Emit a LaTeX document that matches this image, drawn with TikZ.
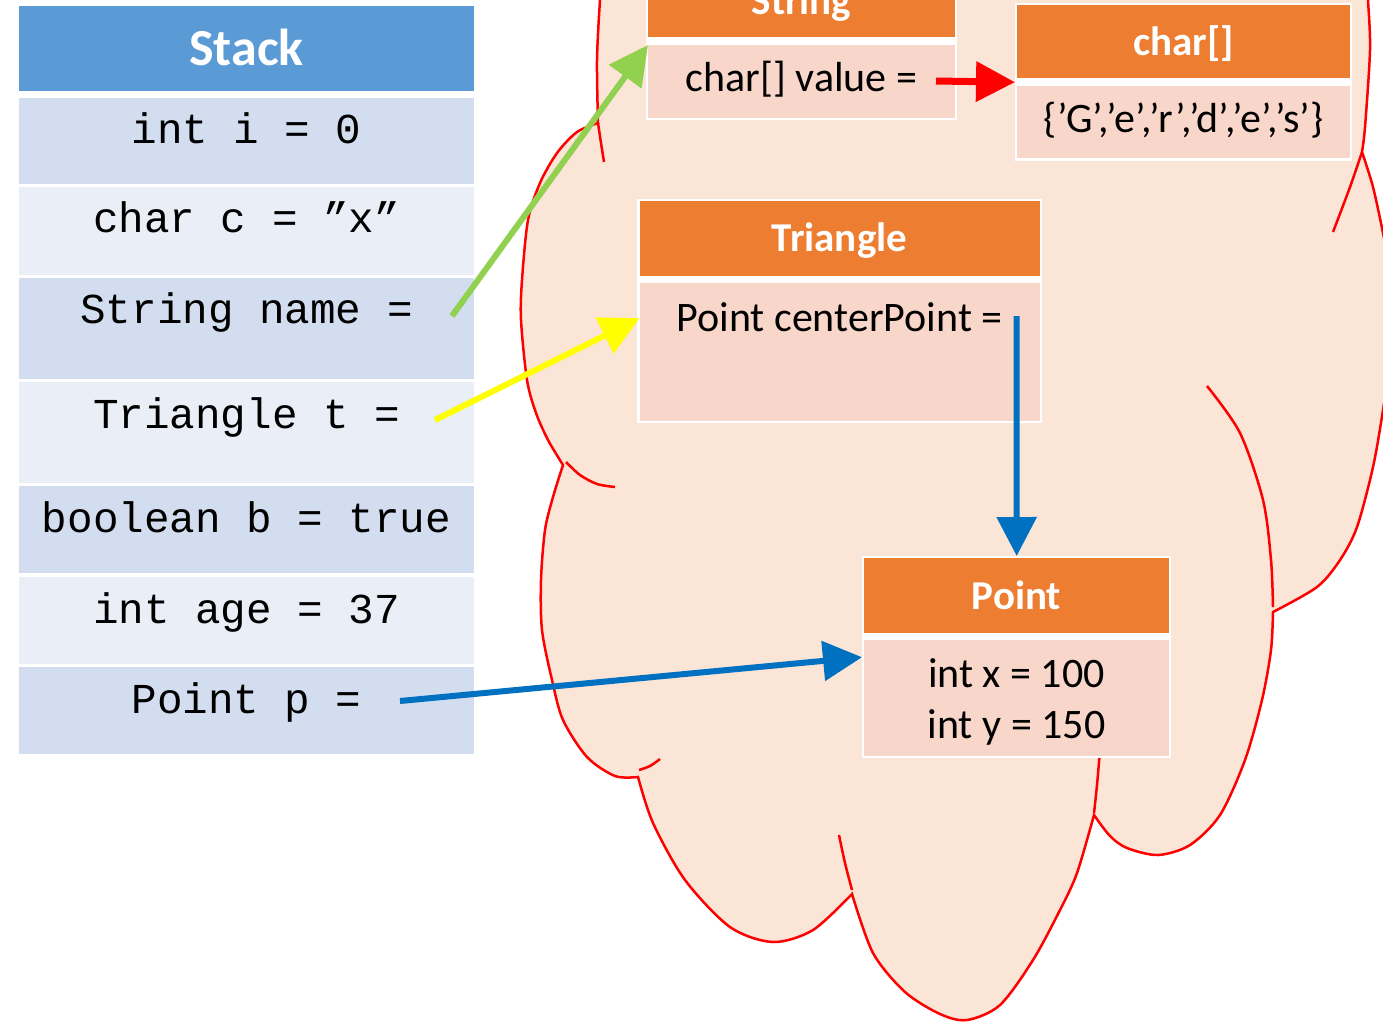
\documentclass[tikz,border=0pt]{standalone}
\usepackage{fontspec}
\setmainfont{Carlito}
\newfontfamily\codefont{Liberation Mono}
\usetikzlibrary{arrows.meta}

\definecolor{stackhead}{HTML}{5B9BD5}
\definecolor{stackdark}{HTML}{D2DEEF}
\definecolor{stacklight}{HTML}{EAEFF7}
\definecolor{heapfill}{HTML}{FBE5D6}
\definecolor{heapline}{HTML}{FF0000}
\definecolor{objhead}{HTML}{ED7D31}
\definecolor{objbody}{HTML}{F8D7CA}
\definecolor{refgreen}{HTML}{92D050}
\definecolor{refblue}{HTML}{0070C0}
\definecolor{refyellow}{HTML}{FFFF00}

\begin{document}
\begin{tikzpicture}[x=1pt,y=-1pt,
  cloudline/.style={draw=heapline, line width=2.5pt},
  cell/.style={inner sep=0pt, minimum width=455pt, anchor=north west},
  code/.style={font=\codefont\fontsize{42.6}{50}\selectfont, anchor=base, inner sep=0pt},
  stacktitle/.style={font=\bfseries\fontsize{52}{60}\selectfont, text=white, anchor=base, inner sep=0pt},
  headtext/.style={font=\bfseries\fontsize{41}{48}\selectfont, text=white, anchor=base, inner sep=0pt},
  bodytext/.style={font=\fontsize{42}{50}\selectfont, anchor=base, inner sep=0pt},
  objframe/.style={fill=white, inner sep=0pt, anchor=north west},
  objtop/.style={fill=objhead, inner sep=0pt, anchor=north west},
  objmain/.style={fill=objbody, inner sep=0pt, anchor=north west},
  ref/.style={line width=6pt, -{Triangle[length=39pt,width=39pt]}},
]
\useasboundingbox (0,0) rectangle (1383,1021);

% ---------- heap cloud ----------
\begin{scope}
\clip (0,0) rectangle (1383,1021);
\path[fill=heapfill, cloudline]
  plot[smooth] coordinates {(603,-30) (600,0) (597,60) (598,123)}
  -- plot[smooth] coordinates {(598,123) (577,132) (557,153) (540,183) (528,220) (522,280) (521,320) (527,380) (536,413) (548,440) (563,465)}
  -- plot[smooth] coordinates {(563,465) (553,497) (545,530) (541,580) (542,630) (552,680) (563,720) (587,757) (615,776) (638,777)}
  -- plot[smooth] coordinates {(638,777) (653,823) (685,880) (730,927) (773,942) (813,930) (852,894)}
  -- plot[smooth] coordinates {(852,894) (873,953) (905,992) (940,1014) (967,1020) (1000,1005) (1033,960) (1060,910) (1077,873) (1094,815)}
  -- plot[smooth] coordinates {(1094,815) (1110,836) (1127,848) (1158,855) (1190,845) (1220,815) (1245,760) (1262,700) (1271,650) (1273,612)}
  -- plot[smooth] coordinates {(1273,612) (1317,587) (1340,560) (1357,527) (1373,467) (1383,410) (1393,340)}
  -- (1410,340) -- (1410,290)
  -- plot[smooth] coordinates {(1392,280) (1383,233) (1373,187) (1362,152)}
  -- plot[smooth] coordinates {(1362,152) (1365,127) (1370,50) (1368,0) (1366,-30)}
  -- cycle;
% inner arcs of the cloud
\draw[cloudline] plot[smooth] coordinates {(598,123) (601,143) (604,162)};
\draw[cloudline] plot[smooth] coordinates {(566,462) (580,475) (597,484) (615,487)};
\draw[cloudline] plot[smooth] coordinates {(639,770) (650,766) (660,759)};
\draw[cloudline] plot[smooth] coordinates {(839,835) (845,863) (852,890)};
\draw[cloudline] plot[smooth] coordinates {(1094,813) (1097,785) (1100,750)};
\draw[cloudline] plot[smooth] coordinates {(1207,386) (1240,433) (1263,500) (1271,560) (1273,607)};
\draw[cloudline] plot[smooth] coordinates {(1362,152) (1350,187) (1333,232)};
\end{scope}

% ---------- stack ----------
\node[cell, fill=stackhead, minimum height=85pt] (sh) at (19,6) {};
\node[cell, fill=stackdark,  minimum height=86pt]  (r1) at (19,98) {};
\node[cell, fill=stacklight, minimum height=88pt]  (r2) at (19,187) {};
\node[cell, fill=stackdark,  minimum height=101pt] (r3) at (19,278) {};
\node[cell, fill=stacklight, minimum height=101pt] (r4) at (19,382) {};
\node[cell, fill=stackdark,  minimum height=87pt]  (r5) at (19,486) {};
\node[cell, fill=stacklight, minimum height=87pt]  (r6) at (19,577) {};
\node[cell, fill=stackdark,  minimum height=87pt]  (r7) at (19,667) {};

\node[stacktitle] (st) at (246.5,65) {Stack};
\node[code] (t1) at (246.5,143) {int i = 0};
\node[code] (t2) at (246.5,232) {char c = ”x”};
\node[code] (t3) at (246.5,323) {String name = };
\node[code] (t4) at (246.5,428) {Triangle t = };
\node[code] (t5) at (246.5,532) {boolean b = true};
\node[code] (t6) at (246.5,623) {int age = 37};
\node[code] (t7) at (246.5,713) {Point p = };

% ---------- String object ----------
\node[objframe, minimum width=311pt, minimum height=170pt] (str) at (646,-50) {};
\node[objtop,  minimum width=307pt, minimum height=87pt] (str-h) at (648,-50) {};
\node[objmain, minimum width=307pt, minimum height=73pt] (str-b) at (648,45) {};
\node[headtext] (str-t) at (801.5,14) {String};
\node[bodytext] (str-v) at (801.5,91) {char[] value =};

% ---------- char[] object ----------
\node[objframe, minimum width=337pt, minimum height=158pt] (chr) at (1015,3) {};
\node[objtop,  minimum width=333pt, minimum height=73pt] (chr-h) at (1017,5) {};
\node[objmain, minimum width=333pt, minimum height=72pt] (chr-b) at (1017,86) {};
\node[headtext] (chr-t) at (1183.5,55) {char[]};
\node[bodytext] (chr-v) at (1183.5,132) {\{’G’,’e’,’r’,’d’,’e’,’s’\}};

% ---------- Triangle object ----------
\node[objframe, minimum width=405pt, minimum height=224pt] (tri) at (637,199) {};
\node[objtop,  minimum width=400pt, minimum height=75pt] (tri-h) at (639.5,201) {};
\node[objmain, minimum width=400pt, minimum height=138pt] (tri-b) at (639.5,283) {};
\node[headtext] (tri-t) at (839.5,251) {Triangle};
\node[bodytext] (tri-v) at (839.5,331) {Point centerPoint =};

% ---------- Point object ----------
\node[objframe, minimum width=309pt, minimum height=202pt] (pt) at (862,556) {};
\node[objtop,  minimum width=305pt, minimum height=75pt] (pt-h) at (864,558) {};
\node[objmain, minimum width=305pt, minimum height=116pt] (pt-b) at (864,640) {};
\node[headtext] (pt-t) at (1016.5,609) {Point};
\node[bodytext] (pt-x) at (1016.5,687) {int x = 100};
\node[bodytext] (pt-y) at (1016.5,738) {int y = 150};

% ---------- references ----------
\coordinate (from-name) at (452,316);
\coordinate (from-tri) at (435,420);
\coordinate (from-pt) at (400,701);
\coordinate (from-cp) at (1016.5,316);
\coordinate (from-val) at (936,81);

\draw[ref, refgreen] (from-name) -- (str-b.north west);
\draw[ref, refyellow] (from-tri) -- ([yshift=34pt]tri-b.west);
\draw[ref, refblue] (from-pt) -- (pt.west);
\draw[ref, refblue] (from-cp) -- (pt.north);
\draw[ref, heapline, line width=7pt] (from-val) -- (chr.west);
\end{tikzpicture}
\end{document}
